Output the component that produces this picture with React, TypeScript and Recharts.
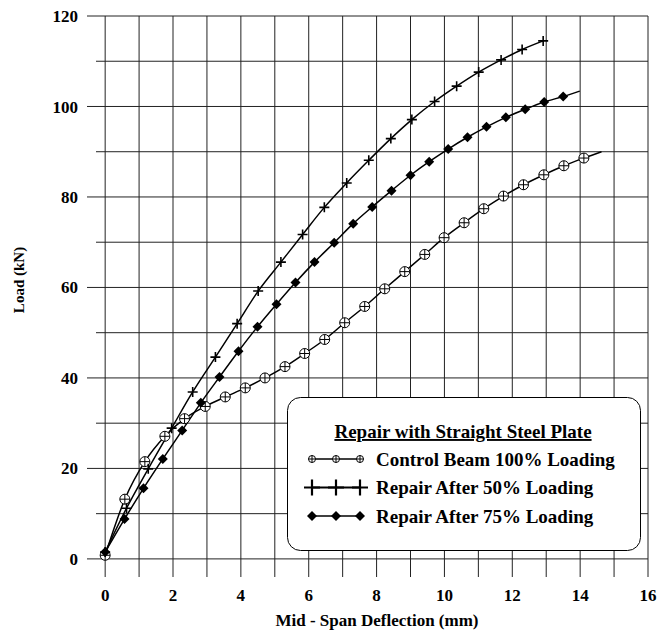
import { CartesianGrid, Line, LineChart, XAxis, YAxis } from 'recharts';

const FONT = '"Liberation Serif", "Times New Roman", serif';

const X_TICKS = [0, 2, 4, 6, 8, 10, 12, 14, 16];
const Y_TICKS = [0, 20, 40, 60, 80, 100, 120];
const X_GRID = [0, 1, 2, 3, 4, 5, 6, 7, 8, 9, 10, 11, 12, 13, 14, 15, 16];
const Y_GRID = [0, 10, 20, 30, 40, 50, 60, 70, 80, 90, 100, 110, 120];

const LEGEND_TITLE = 'Repair with Straight Steel Plate';

// control beam, last point is the curve tail (no marker)
const CONTROL_X = [0, 0.58, 1.17, 1.76, 2.34, 2.95, 3.54, 4.13, 4.71, 5.3, 5.88, 6.47, 7.06, 7.65, 8.24, 8.83, 9.42, 9.99, 10.58, 11.16, 11.74, 12.33, 12.93, 13.52, 14.11, 14.63];
const CONTROL_Y = [0.8, 13.2, 21.5, 27.1, 31.0, 33.7, 35.8, 37.8, 40.0, 42.5, 45.4, 48.5, 52.2, 55.8, 59.7, 63.5, 67.3, 71.0, 74.3, 77.4, 80.2, 82.7, 84.9, 86.9, 88.6, 90.0];

const R50_X = [0, 0.63, 1.27, 1.96, 2.58, 3.25, 3.89, 4.51, 5.18, 5.82, 6.46, 7.12, 7.77, 8.42, 9.04, 9.71, 10.36, 11.01, 11.67, 12.29, 12.91];
const R50_Y = [1.5, 11.2, 19.9, 28.9, 36.9, 44.6, 52.0, 59.2, 65.6, 71.7, 77.7, 83.1, 88.1, 92.9, 97.1, 101.1, 104.5, 107.6, 110.3, 112.6, 114.5];

// 75% repair, last point is the curve tail (no marker)
const R75_X = [0, 0.57, 1.13, 1.7, 2.27, 2.82, 3.37, 3.93, 4.49, 5.05, 5.61, 6.17, 6.75, 7.31, 7.87, 8.44, 9.0, 9.55, 10.11, 10.68, 11.24, 11.81, 12.38, 12.94, 13.5, 13.99];
const R75_Y = [1.5, 8.8, 15.6, 22.1, 28.4, 34.5, 40.2, 45.9, 51.3, 56.3, 61.1, 65.6, 69.9, 74.1, 77.8, 81.4, 84.8, 87.8, 90.6, 93.2, 95.5, 97.6, 99.4, 101.0, 102.2, 103.4];

type Shape = 'circlePlus' | 'plus' | 'diamond';

const zip = (xs: number[], ys: number[]) => xs.map((x, i) => ({ x, y: ys[i] }));

const SERIES: { name: string; shape: Shape; data: { x: number; y: number }[]; tail: boolean }[] = [
  { name: 'Control Beam 100% Loading', shape: 'circlePlus', data: zip(CONTROL_X, CONTROL_Y), tail: true },
  { name: 'Repair After 50% Loading', shape: 'plus', data: zip(R50_X, R50_Y), tail: false },
  { name: 'Repair After 75% Loading', shape: 'diamond', data: zip(R75_X, R75_Y), tail: true },
];

function Marker({ shape, cx, cy, s }: { shape: Shape; cx: number; cy: number; s: number }) {
  if (shape === 'circlePlus') {
    return (
      <g>
        <circle cx={cx} cy={cy} r={s} fill="#fff" stroke="#000" strokeWidth={1} />
        <path d={`M${cx - s},${cy}H${cx + s}M${cx},${cy - s}V${cy + s}`} stroke="#000" strokeWidth={1} />
      </g>
    );
  }
  if (shape === 'plus') {
    return <path d={`M${cx - s},${cy}H${cx + s}M${cx},${cy - s}V${cy + s}`} stroke="#000" strokeWidth={s > 6 ? 2.2 : 1.6} />;
  }
  return <path d={`M${cx},${cy - s}L${cx + s},${cy}L${cx},${cy + s}L${cx - s},${cy}Z`} fill="#000" />;
}

function dotFor(shape: Shape, count: number, tail: boolean) {
  return (props: any) => {
    const { cx, cy, index } = props;
    if (tail && index === count - 1) return <g key={`d${index}`} />;
    return (
      <g key={`d${index}`}>
        <Marker shape={shape} cx={cx} cy={cy} s={5} />
      </g>
    );
  };
}

function LegendBox() {
  const left = 287;
  const top = 397;
  return (
    <svg width={670} height={633} style={{ position: 'absolute', left: 0, top: 0, pointerEvents: 'none' }}>
      <rect x={left + 0.5} y={top + 0.5} width={353} height={153} rx={13} fill="#fff" stroke="#000" strokeWidth={1} />
      <text
        x={463}
        y={438}
        textAnchor="middle"
        fontFamily={FONT}
        fontWeight="bold"
        fontSize={19}
        textDecoration="underline"
      >
        {LEGEND_TITLE}
      </text>
      {SERIES.map((s, i) => {
        const y = 459 + i * 28.5;
        const size = s.shape === 'circlePlus' ? 3.5 : s.shape === 'plus' ? 8 : 5;
        const xs = [312, 336, 360];
        return (
          <g key={s.name}>
            <line x1={xs[0]} y1={y} x2={xs[2]} y2={y} stroke="#000" strokeWidth={s.shape === 'plus' ? 2.2 : 1.5} />
            {xs.map((cx) => (
              <Marker key={cx} shape={s.shape} cx={cx} cy={y} s={size} />
            ))}
            <text x={376} y={y} dy="0.35em" fontFamily={FONT} fontWeight="bold" fontSize={19}>
              {s.name}
            </text>
          </g>
        );
      })}
    </svg>
  );
}

const tickStyle = { fill: '#000', fontSize: 17, fontWeight: 'bold', fontFamily: FONT };

export default function App() {
  return (
    <div style={{ position: 'absolute', left: 0, top: 0, width: 670, height: 633, background: '#fff' }}>
      <LineChart width={670} height={633} margin={{ top: 16, right: 22, bottom: 26, left: 20 }}>
        <CartesianGrid
          horizontalValues={Y_GRID}
          verticalValues={X_GRID}
          stroke="#222"
          strokeWidth={1}
        />
        <XAxis
          type="number"
          dataKey="x"
          domain={[-0.27, 16]}
          ticks={X_TICKS}
          allowDataOverflow
          axisLine={false}
          tickLine={false}
          tickSize={6}
          tickMargin={6}
          height={30}
          tick={tickStyle}
          label={{
            content: ({ viewBox }: any) => (
              <text
                x={viewBox.x + viewBox.width / 2 + 5}
                y={viewBox.y + 49}
                textAnchor="middle"
                fontFamily={FONT}
                fontWeight="bold"
                fontSize={17}
              >
                Mid - Span Deflection (mm)
              </text>
            ),
          }}
        />
        <YAxis
          type="number"
          domain={[-4, 120]}
          ticks={Y_TICKS}
          allowDataOverflow
          axisLine={false}
          tickLine={{ stroke: '#222' }}
          tickSize={9}
          tickMargin={9}
          width={76}
          tick={tickStyle}
          label={{
            content: () => (
              <text
                x={24}
                y={280}
                transform="rotate(-90, 24, 280)"
                textAnchor="middle"
                fontFamily={FONT}
                fontWeight="bold"
                fontSize={15}
              >
                Load (kN)
              </text>
            ),
          }}
        />
        {SERIES.map((s) => (
          <Line
            key={s.name}
            name={s.name}
            data={s.data}
            dataKey="y"
            type="monotone"
            stroke="#000"
            strokeWidth={1.5}
            dot={dotFor(s.shape, s.data.length, s.tail)}
            activeDot={false}
            isAnimationActive={false}
          />
        ))}
      </LineChart>
      <LegendBox />
    </div>
  );
}
